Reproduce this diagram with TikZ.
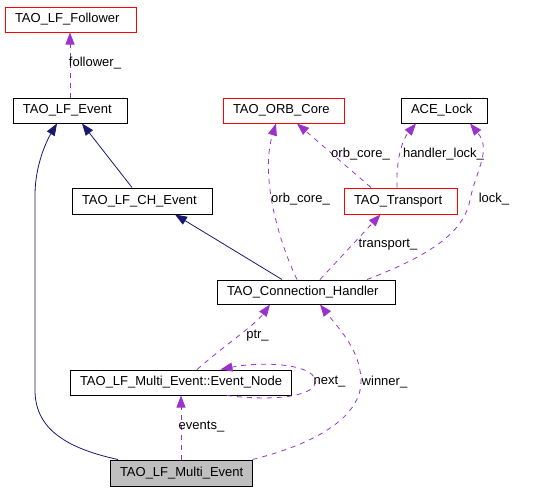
\documentclass[tikz,border=0pt]{standalone}
\usepackage{fontspec}
\setmainfont{Liberation Sans}
\usepackage{xcolor}
\usepackage{tikz}
\usetikzlibrary{arrows.meta}
\definecolor{assocpurple}{HTML}{9A32CD}
\definecolor{inheritnavy}{HTML}{191970}
\definecolor{boxgray}{HTML}{BFBFBF}

\begin{document}
\begin{tikzpicture}[x=1pt, y=-1pt,
    cls/.style={draw=black, line width=1pt, minimum height=25pt, inner ysep=0pt,
        inner xsep=10pt, align=left, font=\fontsize{13}{15}\selectfont},
    lbl/.style={inner sep=0pt, font=\fontsize{13}{15}\selectfont},
    inherit/.style={draw=inheritnavy, line width=0.8pt,
        -{Triangle[length=12pt, width=9pt]}},
    assoc/.style={draw=assocpurple, line width=0.8pt, dash pattern=on 5pt off 5pt,
        -{Triangle[length=12pt, width=9pt, fill=assocpurple]}}]
    \useasboundingbox (0, 0) rectangle (541, 491);

    % 类
    \node[cls, draw=red, text width=111pt] (follower) at (70.5, 19.5) {TAO\_LF\_Follower};
    \node[cls, text width=94pt] (lfevent) at (70, 110.5) {TAO\_LF\_Event};
    \node[cls, draw=red, text width=101pt] (orbcore) at (283.5, 110.5) {TAO\_ORB\_Core};
    \node[cls, text width=66pt] (acelock) at (444, 110.5) {ACE\_Lock};
    \node[cls, text width=120pt, minimum height=26pt] (chevent) at (142, 201) {TAO\_LF\_CH\_Event};
    \node[cls, draw=red, text width=93pt, minimum height=26pt] (transport) at (400.5, 201) {TAO\_Transport};
    \node[cls, text width=158pt, minimum height=24pt] (connhandler) at (306, 292) {TAO\_Connection\_Handler};
    \node[cls, text width=201pt] (eventnode) at (180.5, 382.5) {TAO\_LF\_Multi\_Event::Event\_Node};
    \node[cls, fill=boxgray, text width=122pt, minimum height=26pt] (multievent) at (181, 473) {TAO\_LF\_Multi\_Event};

    % 继承
    \draw[inherit] ([xshift=-10pt]chevent.north) -- ([xshift=12pt]lfevent.south);
    \draw[inherit] ([xshift=-63pt]multievent.north) .. controls (60, 447) and (35, 425) .. (35, 390)
        -- (35, 195) .. controls (35, 165) and (47, 140) .. ([xshift=-13pt]lfevent.south);
    \draw[inherit] ([xshift=-24pt]connhandler.north) -- ([xshift=33pt]chevent.south);

    % 关联
    \draw[assoc] (lfevent.north) -- (lfevent.north |- follower.south);
    \draw[assoc] ([xshift=-9pt]connhandler.north) .. controls (278, 240) and (260, 175) .. ([xshift=-7.5pt]orbcore.south);
    \draw[assoc] ([xshift=-29.5pt]transport.north) -- ([xshift=13.5pt]orbcore.south);
    \draw[assoc] ([xshift=-3.5pt]transport.north) .. controls (396, 160) and (402, 140) .. ([xshift=-28pt]acelock.south);
    \draw[assoc] ([xshift=14pt]connhandler.north) -- ([xshift=-20pt]transport.south);
    \draw[assoc] ([xshift=61pt]connhandler.north) .. controls (445, 250) and (465, 225) .. (470, 200)
        .. controls (476, 170) and (492, 150) .. ([xshift=26pt]acelock.south);
    \draw[assoc] ([xshift=16.5pt]eventnode.north) .. controls (225, 345) and (255, 325) .. ([xshift=-36pt]connhandler.south);
    \draw[assoc] ([xshift=46.5pt]eventnode.south) .. controls (280, 402) and (318, 395) .. (315, 380)
        .. controls (313, 364) and (262, 361) .. ([xshift=40pt]eventnode.north);
    \draw[assoc] (multievent.north east) .. controls (330, 440) and (362, 410) .. (361, 380)
        .. controls (360, 350) and (340, 330) .. ([xshift=14pt]connhandler.south);
    \draw[assoc] (multievent.north) -- (multievent.north |- eventnode.south);

    % 标注
    \node[lbl] (lfollower) at (95, 63) {follower\_};
    \node[lbl] (lorbcoreb) at (300.5, 199) {orb\_core\_};
    \node[lbl] (lorbcorea) at (360.5, 154) {orb\_core\_};
    \node[lbl] (lhandlerlock) at (443.5, 154) {handler\_lock\_};
    \node[lbl] (llock) at (494, 199) {lock\_};
    \node[lbl] (ltransport) at (388, 245) {transport\_};
    \node[lbl] (lptr) at (257.5, 336) {ptr\_};
    \node[lbl] (lnext) at (329.5, 382) {next\_};
    \node[lbl] (lwinner) at (384.5, 382) {winner\_};
    \node[lbl] (levents) at (201.5, 427) {events\_};
\end{tikzpicture}
\end{document}
